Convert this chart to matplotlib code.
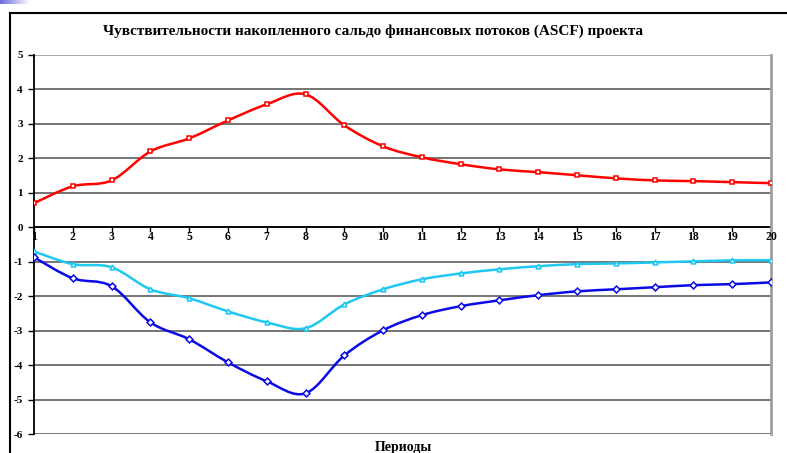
import numpy as np
import matplotlib.pyplot as plt
from matplotlib.path import Path
from matplotlib.patches import PathPatch

periods = list(range(1, 21))
red = [0.70, 1.19, 1.36, 2.20, 2.58, 3.10, 3.57, 3.86, 2.96, 2.35,
       2.03, 1.83, 1.68, 1.60, 1.51, 1.42, 1.36, 1.34, 1.31, 1.28]
cyan = [-0.70, -1.07, -1.16, -1.80, -2.06, -2.44, -2.76, -2.93, -2.24, -1.80,
        -1.51, -1.34, -1.22, -1.13, -1.07, -1.05, -1.02, -0.99, -0.96, -0.96]
blue = [-0.87, -1.48, -1.71, -2.76, -3.25, -3.92, -4.47, -4.82, -3.72, -2.99,
        -2.55, -2.29, -2.12, -1.97, -1.86, -1.80, -1.74, -1.68, -1.65, -1.60]
yticks = list(range(-6, 6))

title = "Чувствительности накопленного сальдо финансовых потоков (ASCF) проекта"
xlabel = "Периоды"

plt.rcParams['font.family'] = ['Liberation Serif', 'DejaVu Serif']


def smooth_path(x, y):
    # excel-like smoothed line: cubic bezier segments through the points
    p = np.column_stack([x, y]).astype(float)
    n = len(p)
    verts = [p[0]]
    codes = [Path.MOVETO]
    for i in range(n - 1):
        p0 = p[i - 1] if i > 0 else p[i]
        p3 = p[i + 2] if i + 2 < n else p[i + 1]
        c1 = p[i] + (p[i + 1] - p0) / 6
        c2 = p[i + 1] - (p3 - p[i]) / 6
        verts += [c1, c2, p[i + 1]]
        codes += [Path.CURVE4] * 3
    return Path(verts, codes)


fig = plt.figure(figsize=(7.87, 4.53), dpi=100)
ax = fig.add_axes([34 / 787, 1 - 434 / 453, (771 - 34) / 787, (434 - 55) / 453])

for yv in yticks:
    ax.axhline(yv, color='#505050' if yv != 5 else '#909090', lw=1.1, zorder=1)
ax.axhline(0, color='black', lw=1.3, zorder=2)

series = [(red, 'red', 's'), (cyan, '#1ec8f0', '^'), (blue, '#0a0ae6', 'D')]
for vals, col, mk in series:
    ax.add_patch(PathPatch(smooth_path(periods, vals), fill=False,
                           edgecolor=col, lw=1.8, zorder=3))
    ax.plot(periods, vals, ls='none', marker=mk, ms=3.5, mfc='white',
            mec=col, mew=1.1, zorder=4)

ax.set_xlim(1, 20)
ax.set_ylim(-6, 5)
ax.set_yticks(yticks)
ax.set_yticklabels([str(v) for v in yticks], fontsize=8, fontweight='bold')
ax.set_xticks([])
for xv in periods:
    ax.plot([xv, xv], [0, -0.12], color='black', lw=1, zorder=2,
            clip_on=False)
    ax.text(xv, -0.27, str(xv), ha='center', va='center', fontsize=8.5,
            fontweight='bold')

for s in ['top', 'bottom']:
    ax.spines[s].set_visible(False)
ax.spines['left'].set_color('black')
ax.spines['left'].set_linewidth(1.3)
ax.spines['right'].set_color('#a0a0a0')
ax.spines['right'].set_linewidth(2)
ax.tick_params(axis='y', length=4, width=1, pad=4)

fig.text(373 / 787, 1 - 31 / 453, title, ha='center', va='center',
         fontsize=11, fontweight='bold')
fig.text(403 / 787, 1 - 447 / 453, xlabel, ha='center', va='center',
         fontsize=10, fontweight='bold')

# outer frame of the chart object
fig.add_artist(plt.Line2D([10 / 787, 10 / 787], [0, 1 - 13 / 453],
                          transform=fig.transFigure, color='black', lw=1.5))
fig.add_artist(plt.Line2D([10 / 787, 1], [1 - 13 / 453, 1 - 13 / 453],
                          transform=fig.transFigure, color='black', lw=1.5))

# slide decoration in the corner
grad = np.linspace(0, 1, 100).reshape(1, -1)
deco = fig.add_axes([0, 1 - 4 / 453, 30 / 787, 4 / 453])
deco.imshow(grad, cmap=plt.matplotlib.colors.LinearSegmentedColormap.from_list(
    'g', ['#6a6ae0', 'white']), aspect='auto')
deco.axis('off')

fig.savefig('out.png', dpi=100)
